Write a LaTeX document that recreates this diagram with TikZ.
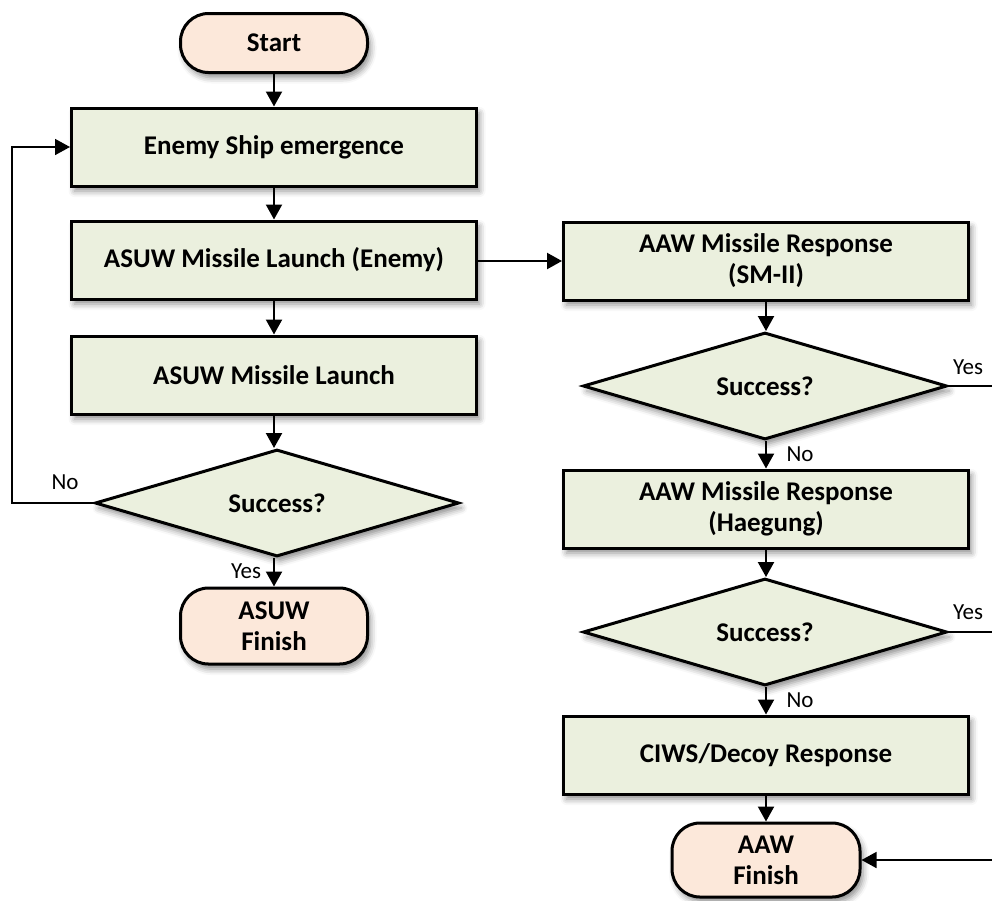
\documentclass[tikz,border=0pt]{standalone}
\usepackage{fontspec}
\setmainfont{Carlito}
\usetikzlibrary{arrows.meta,shapes.geometric,shadows.blur}
\definecolor{procfill}{RGB}{235,240,222}
\definecolor{termfill}{RGB}{252,232,218}
\begin{document}
\begin{tikzpicture}[x=1pt,y=-1pt,
  every node/.style={font=\fontsize{27}{31}\selectfont\bfseries, align=center, inner sep=0pt},
  soft/.style={blur shadow={shadow xshift=3pt, shadow yshift=-5pt, shadow blur radius=6pt, shadow opacity=45}},
  procbox/.style={draw, line width=3pt, fill=procfill, minimum width=405pt, minimum height=78pt, soft},
  termbox/.style={draw, line width=3pt, fill=termfill, minimum width=187pt, rounded corners=28pt, soft},
  decision/.style={diamond, aspect=3.4, draw, line width=3pt, fill=procfill, minimum width=364pt, minimum height=107pt, soft},
  conn/.style={line width=2.2pt, -{Triangle[length=15pt,width=16pt]}},
  thin/.style={line width=1.6pt},
  lbl/.style={font=\fontsize{23}{26}\selectfont}
]
\useasboundingbox (0,0) rectangle (992,900);

% left column
\node[termbox, minimum height=59pt] (start) at (274,43) {Start};
\node[procbox] (ship) at (274,147) {Enemy Ship emergence};
\node[procbox] (launchE) at (274,260) {ASUW Missile Launch (Enemy)};
\node[procbox] (launch) at (274,375) {ASUW Missile Launch};
\node[decision] (d0) at (277,503) {Success?};
\node[termbox, minimum height=76pt] (asuwfin) at (274,626) {ASUW\\Finish};

% right column
\node[procbox] (sm2) at (766,261) {AAW Missile Response\\(SM-II)};
\node[decision] (d1) at (765,386) {Success?};
\node[procbox] (haegung) at (766,509) {AAW Missile Response\\(Haegung)};
\node[decision] (d2) at (765,632) {Success?};
\node[procbox] (ciws) at (766,755) {CIWS/Decoy Response};
\node[termbox, minimum height=74pt, minimum width=188pt] (aawfin) at (766,860) {AAW\\Finish};

% loose ends at the page edges
\coordinate (loop) at (12,503);
\coordinate (yes1) at (992,386);
\coordinate (yes2) at (992,632);
\coordinate (back) at (992,860);

% left column flow
\draw[conn] (start) -- (ship);
\draw[conn] (ship) -- (launchE);
\draw[conn] (launchE) -- (launch);
\draw[conn] (launch.south) -- (launch.south |- d0.north);
\draw[conn] (d0.south -| asuwfin.north) -- (asuwfin.north);
\draw[conn, thin] (d0.west) -- (loop) |- (ship.west);
\draw[conn] (launchE.east |- sm2.west) -- (sm2.west);

% right column flow
\draw[conn] (sm2.south) -- (sm2.south |- d1.north);
\draw[conn] (d1.south -| haegung.north) -- (haegung.north);
\draw[conn] (haegung.south) -- (haegung.south |- d2.north);
\draw[conn] (d2.south -| ciws.north) -- (ciws.north);
\draw[conn] (ciws) -- (aawfin);
\draw[thin] (d1.east) -- (yes1);
\draw[thin] (d2.east) -- (yes2);
\draw[conn, thin] (back) -- (aawfin.east);

% branch labels
\node[lbl] (lno0) at (65,482) {No};
\node[lbl] (lyes0) at (246,571) {Yes};
\node[lbl] (lyes1) at (968,367) {Yes};
\node[lbl] (lno1) at (800,454) {No};
\node[lbl] (lyes2) at (968,612) {Yes};
\node[lbl] (lno2) at (800,700) {No};
\end{tikzpicture}
\end{document}
